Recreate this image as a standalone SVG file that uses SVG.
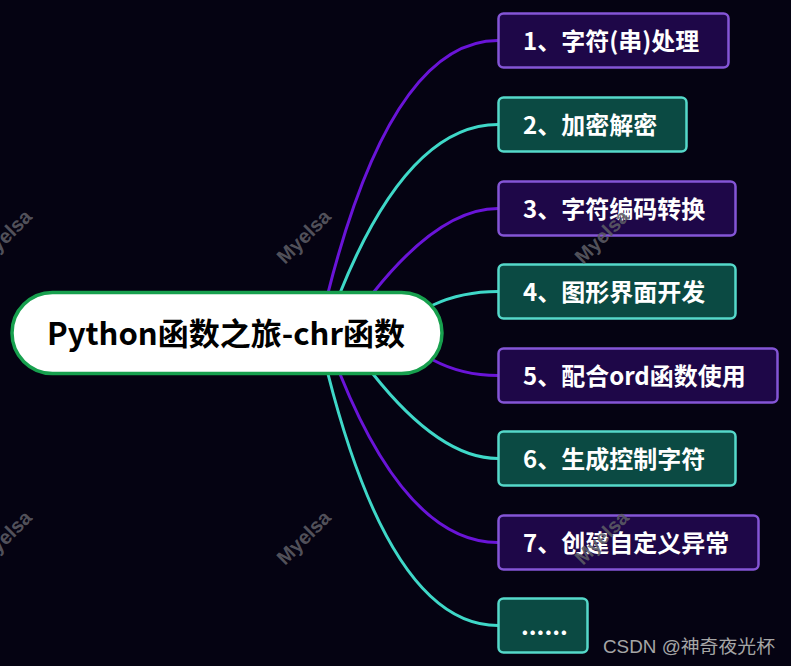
<svg xmlns="http://www.w3.org/2000/svg" width="791" height="666" viewBox="0 0 791 666">
<style>
.bg{fill:#050312}
.wm{font-family:"Liberation Sans",Arial,sans-serif;font-weight:bold;font-size:20px;fill:#5c5c64;fill-opacity:0.9}
.c{fill:none;stroke-width:3;stroke-linecap:round}
.cp{stroke:#6a14d8}
.ct{stroke:#3fd8c8}
.np{fill:#1e0748;stroke:#8455d6;stroke-width:2.5}
.nt{fill:#0b4a43;stroke:#55d9ca;stroke-width:2.5}
.lbl{font-family:"Noto Sans CJK SC","Noto Sans",sans-serif;font-weight:bold;font-size:24px;fill:#ffffff}
.title{font-family:"Noto Sans CJK SC","Noto Sans",sans-serif;font-weight:bold;font-size:31px;fill:#000000}
.csdn{font-family:"Liberation Sans","Noto Sans CJK SC",sans-serif;font-size:18px;fill:#a6a6a6}
</style>
<rect class="bg" x="0" y="0" width="791" height="666"/>
<g id="connectors">
<path class="c cp" d="M328,293 Q392,40.5 498,40.5"/>
<path class="c ct" d="M340,293 Q408,124.5 498,124.5"/>
<path class="c cp" d="M373,293 Q440,208.5 498,208.5"/>
<path class="c ct" d="M433,305 Q462,291.5 498,291.5"/>
<path class="c cp" d="M433,360 Q462,375.5 498,375.5"/>
<path class="c ct" d="M373,374 Q440,458.5 498,458.5"/>
<path class="c cp" d="M340,374 Q408,542.5 498,542.5"/>
<path class="c ct" d="M328,374 Q392,625.5 498,625.5"/>
</g>
<g id="root">
<rect x="12" y="292.5" width="430" height="81" rx="40.5" fill="#ffffff" stroke="#17a04e" stroke-width="3.5"/>
<text class="title" x="47" y="344.5" textLength="358" lengthAdjust="spacingAndGlyphs">Python函数之旅-chr函数</text>
</g>
<g id="n1"><rect class="np" x="498.5" y="13.5" width="230" height="54" rx="5"/><text class="lbl" x="523" y="49.5">1、字符(串)处理</text></g>
<g id="n2"><rect class="nt" x="498.5" y="97.5" width="188" height="54" rx="5"/><text class="lbl" x="523" y="133.5">2、加密解密</text></g>
<g id="n3"><rect class="np" x="498.5" y="181.5" width="237" height="54" rx="5"/><text class="lbl" x="523" y="217.5">3、字符编码转换</text></g>
<g id="n4"><rect class="nt" x="498.5" y="264.5" width="237" height="54" rx="5"/><text class="lbl" x="523" y="300.5">4、图形界面开发</text></g>
<g id="n5"><rect class="np" x="498.5" y="348.5" width="279" height="54" rx="5"/><text class="lbl" x="523" y="384.5">5、配合ord函数使用</text></g>
<g id="n6"><rect class="nt" x="498.5" y="431.5" width="237" height="54" rx="5"/><text class="lbl" x="523" y="467.5">6、生成控制字符</text></g>
<g id="n7"><rect class="np" x="498.5" y="515.5" width="260" height="54" rx="5"/><text class="lbl" x="523" y="551.5">7、创建自定义异常</text></g>
<g id="n8"><rect class="nt" x="498.5" y="598.5" width="89" height="54" rx="5"/><text class="lbl" x="521" y="634.5">......</text></g>
<g id="watermarks">
<text class="wm" transform="translate(-14,265) rotate(-45)">Myelsa</text>
<text class="wm" transform="translate(285,265) rotate(-45)">Myelsa</text>
<text class="wm" transform="translate(583,265) rotate(-45)">Myelsa</text>
<text class="wm" transform="translate(-14,566) rotate(-45)">Myelsa</text>
<text class="wm" transform="translate(285,566) rotate(-45)">Myelsa</text>
<text class="wm" transform="translate(583,566) rotate(-45)">Myelsa</text>
</g>
<text class="csdn" x="603" y="653" textLength="172" lengthAdjust="spacingAndGlyphs">CSDN @神奇夜光杯</text>
</svg>
